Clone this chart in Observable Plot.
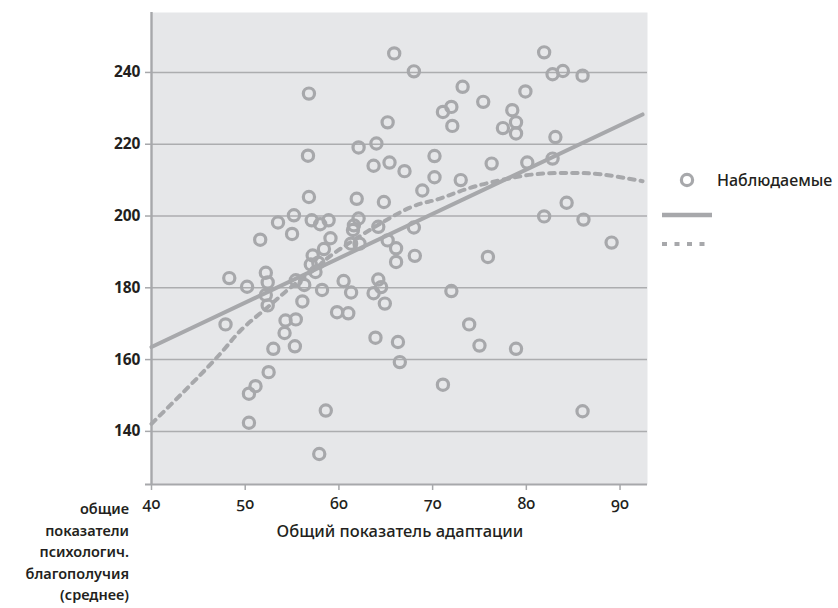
<!DOCTYPE html>
<html><head><meta charset="utf-8">
<script src="https://cdn.jsdelivr.net/npm/d3@7"></script>
<script src="https://cdn.jsdelivr.net/npm/@observablehq/plot@0.6"></script>
<style>
body{margin:0;background:#fff;}
#chart svg{display:block;}
</style></head><body><div id="chart"></div>
<script>
// Observed values (x: общий показатель адаптации, y: психологическое благополучие)
const adaptation = [65.9,68.0,56.8,65.2,62.1,64.0,56.7,63.7,65.4,67.0,56.8,61.9,64.8,55.2,53.5,55.0,51.6,57.1,58.0,58.9,59.1,62.1,61.6,61.5,64.2,65.2,68.0,61.3,62.2,81.9,82.8,83.9,86.0,73.2,75.4,79.9,71.1,72.0,72.1,78.5,77.5,78.9,78.9,83.1,82.8,80.1,76.3,70.2,70.2,73.0,68.9,81.9,84.3,86.1,89.1,48.3,50.2,52.2,52.4,52.2,52.4,47.9,55.4,56.3,57.2,57.0,57.8,57.5,58.4,58.2,56.1,54.3,55.4,54.2,55.3,53.0,52.5,51.1,50.4,50.4,58.6,57.9,60.5,61.3,59.8,61.0,66.1,66.1,68.1,64.2,63.7,64.5,64.9,63.9,66.3,66.5,75.9,72.0,73.9,75.0,78.9,71.1,86.0];
const wellbeing = [245.3,240.3,234.1,226.1,219.1,220.2,216.8,214.0,214.9,212.5,205.3,204.8,203.9,200.2,198.2,195.0,193.4,198.8,197.7,198.8,193.8,199.3,197.4,196.1,197.0,193.2,196.8,192.3,192.3,245.6,239.5,240.4,239.1,236.0,231.8,234.7,229.0,230.4,225.1,229.5,224.5,226.1,223.0,222.0,216.0,214.9,214.6,216.7,210.8,210.0,207.1,199.9,203.7,199.0,192.6,182.7,180.3,184.2,181.5,178.0,175.1,169.8,182.1,180.8,189.0,186.5,187.0,184.4,190.8,179.4,176.2,170.9,171.2,167.4,163.7,163.0,156.5,152.6,150.5,142.4,145.8,133.7,181.9,178.7,173.2,172.9,191.0,187.2,188.9,182.3,178.5,180.2,175.6,166.1,164.9,159.3,188.6,179.1,169.8,163.9,163.0,153.0,145.6];
// Linear fit line
const linX = [40, 92.4];
const linY = [163.5, 228.3];
// Quadratic fit curve
const quadX = [40, 46.7, 49.5, 52.4, 54.9, 57.7, 59.9, 66.6, 70.2, 73.7, 77.3, 80.8, 84.4, 88.0, 92.4];
const quadY = [142.1, 159.8, 168.1, 174.6, 180.2, 185.8, 190.4, 201.1, 204.4, 207.6, 210.0, 211.6, 212.0, 211.6, 209.7];
const xTicks = [40, 50, 60, 70, 80, 90];
const yTicks = [140, 160, 180, 200, 220, 240];
const xTitle = "Общий показатель адаптации";
const yTitleLines = ["общие", "показатели", "психологич.", "благополучия", "(среднее)"];
const legendLabels = ["Наблюдаемые", "", ""];

const points = adaptation.map((x, i) => ({x, y: wellbeing[i]}));
const lin = linX.map((x, i) => ({x, y: linY[i]}));
const quad = quadX.map((x, i) => ({x, y: quadY[i]}));

const gray = "#a7a8ab";
const ink = "#231f20";
const font = "'Noto Sans', 'Open Sans', sans-serif";

const svg = Plot.plot({
  width: 838, height: 608,
  marginTop: 12, marginBottom: 124, marginLeft: 151, marginRight: 191,
  x: {domain: [40, 92.93]},
  y: {domain: [125.2, 256.7]},
  style: {fontFamily: font, background: "white"},
  marks: [
    Plot.frame({fill: "#e6e7e9", stroke: "none"}),
    Plot.gridY(yTicks, {stroke: "#acadaf", strokeOpacity: 1, strokeWidth: 1.5}),
    Plot.line(quad, {x: "x", y: "y", stroke: gray, strokeWidth: 4, strokeDasharray: "5.5,6", curve: "natural"}),
    Plot.line(lin, {x: "x", y: "y", stroke: gray, strokeWidth: 4}),
    Plot.dot(points, {x: "x", y: "y", r: 5.6, stroke: gray, strokeWidth: 3.2, fill: "none"}),
    Plot.ruleX([40], {stroke: gray, strokeWidth: 2.4}),
    Plot.ruleY([125.2], {stroke: gray, strokeWidth: 2, insetLeft: -6}),
    Plot.axisY(yTicks, {tickSize: 6, tickPadding: 5, stroke: gray, strokeWidth: 1.5, fill: ink, fontSize: 15.5, fontWeight: 700, label: null}),
    Plot.axisX(xTicks, {tickSize: 6, tickPadding: 7, stroke: gray, strokeWidth: 1.5, fill: ink, fontSize: 16, fontWeight: 500, label: null})
  ]
});
document.getElementById("chart").appendChild(svg);

const s = d3.select(svg);
s.selectAll("[aria-label='x-axis tick label'] text").style("font-variant-numeric", "oldstyle-nums");

// Axis titles
s.append("text").attr("x", 400).attr("y", 537).attr("text-anchor", "middle")
  .attr("font-family", font).attr("font-size", 16.5).attr("font-weight", 500).attr("fill", ink).text(xTitle);
s.append("g").selectAll("text").data(yTitleLines).join("text")
  .attr("x", 129).attr("y", (d, i) => 514 + i * 21.5).attr("text-anchor", "end")
  .attr("font-family", font).attr("font-size", 14.5).attr("font-weight", 600).attr("fill", ink).text(d => d);

// Legend
const lg = s.append("g");
lg.append("circle").attr("cx", 687).attr("cy", 180).attr("r", 5.6).attr("fill", "none").attr("stroke", gray).attr("stroke-width", 3.2);
lg.append("text").attr("x", 717).attr("y", 186).attr("text-anchor", "start").attr("font-family", font).attr("font-size", 16).attr("font-weight", 500).attr("fill", ink).text(legendLabels[0]);
lg.append("line").attr("x1", 662).attr("x2", 712).attr("y1", 215).attr("y2", 215).attr("stroke", gray).attr("stroke-width", 4.5);
lg.append("line").attr("x1", 662).attr("x2", 712).attr("y1", 244).attr("y2", 244).attr("stroke", gray).attr("stroke-width", 3.8).attr("stroke-dasharray", "5,7.5");
</script></body></html>
